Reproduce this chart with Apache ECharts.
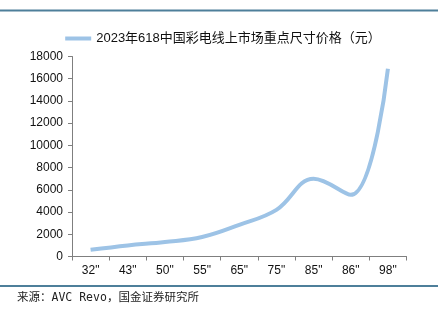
<!DOCTYPE html>
<html><head><meta charset="utf-8">
<script src="https://cdn.jsdelivr.net/npm/echarts@6/dist/echarts.min.js"></script>
<style>html,body{margin:0;padding:0;background:#fff}#c{width:446px;height:323px}</style>
</head><body><div id="c"></div>
<script>
var categories = ['32"', '43"', '50"', '55"', '65"', '75"', '85"', '86"', '98"'];
var prices = [600, 1000, 1300, 1750, 2850, 4200, 7000, 5550, 16900];
var yTicks = [0, 2000, 4000, 6000, 8000, 10000, 12000, 14000, 16000, 18000];
var seriesName = '2023年618中国彩电线上市场重点尺寸价格（元）';
var sourceText = '来源：AVC Revo，国金证券研究所';

var chart = echarts.init(document.getElementById('c'), null, {renderer: 'canvas'});
chart.setOption({
  animation: false,
  backgroundColor: '#fff',
  legend: {
    top: 27, left: 'center',
    itemWidth: 26, itemHeight: 4, itemGap: 3,
    icon: 'rect',
    textStyle: {fontFamily: 'Liberation Sans, Noto Sans CJK SC, sans-serif', fontSize: 13, color: '#111'},
    data: [seriesName]
  },
  grid: {left: 72, right: 39.5, top: 56.5, bottom: 66.5},
  xAxis: {
    type: 'category', data: categories, boundaryGap: true,
    axisLine: {lineStyle: {color: '#7f7f7f', width: 1}},
    axisTick: {show: true, length: 4, lineStyle: {color: '#7f7f7f'}},
    axisLabel: {fontFamily: 'Liberation Sans, sans-serif', fontSize: 12, color: '#111', margin: 8}
  },
  yAxis: {
    type: 'value', min: yTicks[0], max: yTicks[yTicks.length - 1], interval: 2000,
    axisLine: {show: true, lineStyle: {color: '#7f7f7f', width: 1}},
    axisTick: {show: true, length: 4, lineStyle: {color: '#7f7f7f'}},
    splitLine: {show: false},
    axisLabel: {fontFamily: 'Liberation Sans, sans-serif', fontSize: 12, color: '#111', margin: 9,
      formatter: function (v) { return String(v); }}
  },
  series: [{
    name: seriesName, type: 'line', data: prices, smooth: 0.4,
    symbol: 'none',
    lineStyle: {color: '#9dc3e6', width: 4},
    itemStyle: {color: '#9dc3e6'}
  }],
  graphic: [
    {type: 'rect', shape: {x: 0, y: 9.5, width: 438, height: 2}, style: {fill: '#4e7f9a'}},
    {type: 'rect', shape: {x: 0, y: 285, width: 438, height: 2}, style: {fill: '#4e7f9a'}},
    {type: 'text', left: 17, top: 292, style: {text: sourceText, font: '11.5px "DejaVu Sans Mono", "Noto Sans CJK SC", monospace', fill: '#222'}}
  ]
});
</script></body></html>
